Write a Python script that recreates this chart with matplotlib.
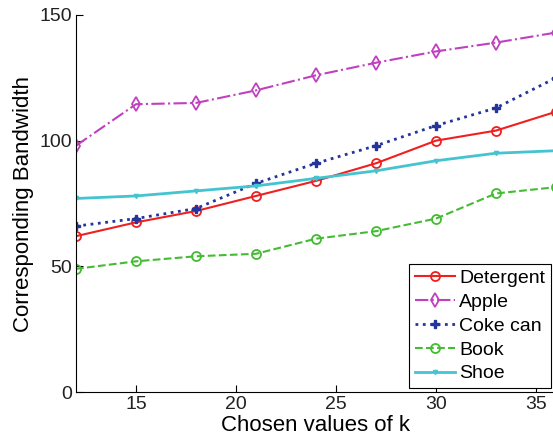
import matplotlib.pyplot as plt

plt.rcParams['font.family'] = ['Liberation Sans', 'DejaVu Sans']

# 데이터
k = [12, 15, 18, 21, 24, 27, 30, 33, 36]
detergent = [62, 67.5, 72, 78, 84, 91, 100, 104, 111.5]
apple = [98, 114.5, 115, 120, 126, 131, 135.5, 139, 143]
coke_can = [66, 69, 73, 83, 91, 98, 106, 113, 125]
book = [49, 52, 54, 55, 61, 64, 69, 79, 81.5]
shoe = [77, 78, 80, 82, 85, 88, 92, 95, 96]

fig = plt.figure(figsize=(5.53, 4.40), dpi=100)
ax = fig.add_axes([0.1374, 0.109, 0.868, 0.857])

ax.plot(k, detergent, color='#ee2020', linestyle='-', marker='o', markersize=6.5,
        markerfacecolor='none', markeredgewidth=1.3, linewidth=1.5, label='Detergent')
ax.plot(k, apple, color='#c040c0', linestyle='-.', marker='d', markersize=7.5,
        markerfacecolor='none', markeredgewidth=1.3, linewidth=1.5, label='Apple')
ax.plot(k, coke_can, color='#24349a', linestyle=':', marker='P', markersize=6,
        linewidth=2, label='Coke can')
ax.plot(k, book, color='#44bb33', linestyle='--', marker='o', markersize=6.5,
        markerfacecolor='none', markeredgewidth=1.3, linewidth=1.5, label='Book')
ax.plot(k, shoe, color='#44c4d0', linestyle='-', marker='v', markersize=3,
        linewidth=2, label='Shoe')

ax.set_xlim(12, 36)
ax.set_ylim(0, 150)
ax.set_xticks([15, 20, 25, 30, 35])
ax.set_yticks([0, 50, 100, 150])
ax.tick_params(direction='in', labelsize=14, length=5, pad=3, labelcolor='#222222')
ax.spines['top'].set_visible(False)
ax.spines['right'].set_visible(False)
ax.set_xlabel('Chosen values of k', fontsize=16, labelpad=1)
ax.set_ylabel('Corresponding Bandwidth', fontsize=16, labelpad=4)

leg = ax.legend(loc='lower right', fontsize=14, fancybox=False, framealpha=1,
                edgecolor='black', handlelength=2.1, labelspacing=0.32,
                borderpad=0.3, handletextpad=0.2, borderaxespad=0,
                bbox_to_anchor=(0.99, 0.01))
leg.get_frame().set_linewidth(0.8)

plt.savefig('out.png', dpi=100)
